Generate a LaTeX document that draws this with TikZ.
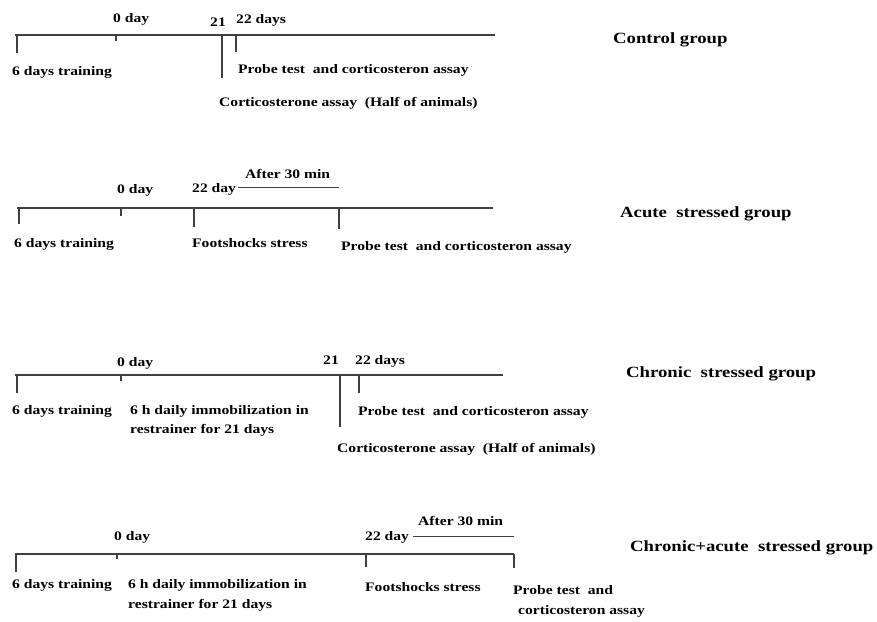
\documentclass[tikz,border=0pt]{standalone}
\usepackage{fontspec}
\setmainfont{Liberation Serif}[FakeStretch=1.2]
\begin{document}
\begin{tikzpicture}[x=1pt,y=-1pt]
		\tikzset{lab/.style = {anchor=base west, inner sep=0pt, font=\fontsize{13}{16}\selectfont\bfseries},
			grp/.style = {anchor=base west, inner sep=0pt, font=\fontsize{15.6}{19}\selectfont\bfseries},
			axis/.style = {draw=black!75, line width=1.3pt},
			tick/.style = {draw=black!75, line width=1.3pt}}

		\useasboundingbox (0,0) rectangle (877,621);

		% control group
		\coordinate (C_0) at (15,35);
		\coordinate (C_1) at (495,35);
		\coordinate (C_2) at (17,35);   \coordinate (C_3) at (17,53);
		\coordinate (C_4) at (116,35);  \coordinate (C_5) at (116,41);
		\coordinate (C_6) at (222,35);  \coordinate (C_7) at (222,78);
		\coordinate (C_8) at (236,35);  \coordinate (C_9) at (236,52);

		\draw[axis] (C_0)--(C_1);
		\draw[tick] (C_2)--(C_3);
		\draw[tick] (C_4)--(C_5);
		\draw[tick] (C_6)--(C_7);
		\draw[tick] (C_8)--(C_9);

		\node[lab] (c_day0) at (113,22) {0 day};
		\node[lab] (c_day21) at (210,26) {21};
		\node[lab] (c_day22) at (236,23) {22 days};
		\node[lab] (c_train) at (12,75) {6 days training};
		\node[lab] (c_probe) at (238,73) {Probe test\ \ and corticosteron assay};
		\node[lab] (c_cort) at (219,106) {Corticosterone assay\ \ (Half of animals)};
		\node[grp] (c_name) at (613,43) {Control group};

		% acute stressed group
		\coordinate (A_0) at (17,208);
		\coordinate (A_1) at (493,208);
		\coordinate (A_2) at (19,208);   \coordinate (A_3) at (19,224);
		\coordinate (A_4) at (121,208);  \coordinate (A_5) at (121,216);
		\coordinate (A_6) at (194,208);  \coordinate (A_7) at (194,227);
		\coordinate (A_8) at (339,208);  \coordinate (A_9) at (339,229);
		\coordinate (A_10) at (238,187); \coordinate (A_11) at (339,187);

		\draw[axis] (A_0)--(A_1);
		\draw[tick] (A_2)--(A_3);
		\draw[tick] (A_4)--(A_5);
		\draw[tick] (A_6)--(A_7);
		\draw[tick] (A_8)--(A_9);
		\draw[black!75, line width=1pt] (A_10)--(A_11);

		\node[lab] (a_day0) at (117,193) {0 day};
		\node[lab] (a_day22) at (192,192) {22 day};
		\node[lab] (a_after) at (245,178) {After 30 min};
		\node[lab] (a_train) at (14,247) {6 days training};
		\node[lab] (a_shock) at (192,247) {Footshocks stress};
		\node[lab] (a_probe) at (341,250) {Probe test\ \ and corticosteron assay};
		\node[grp] (a_name) at (620,217) {Acute\ \ stressed group};

		% chronic stressed group
		\coordinate (B_0) at (15,375);
		\coordinate (B_1) at (503,375);
		\coordinate (B_2) at (17,375);   \coordinate (B_3) at (17,393);
		\coordinate (B_4) at (121,375);  \coordinate (B_5) at (121,381);
		\coordinate (B_6) at (340,375);  \coordinate (B_7) at (340,427);
		\coordinate (B_8) at (359,375);  \coordinate (B_9) at (359,393);

		\draw[axis] (B_0)--(B_1);
		\draw[tick] (B_2)--(B_3);
		\draw[tick] (B_4)--(B_5);
		\draw[tick] (B_6)--(B_7);
		\draw[tick] (B_8)--(B_9);

		\node[lab] (b_day0) at (117,366) {0 day};
		\node[lab] (b_day21) at (323,364) {21};
		\node[lab] (b_day22) at (355,364) {22 days};
		\node[lab] (b_train) at (12,414) {6 days training};
		\node[lab] (b_immo) at (130,414) {6 h daily immobilization in};
		\node[lab] (b_immo2) at (130,433) {restrainer for 21 days};
		\node[lab] (b_probe) at (358,415) {Probe test\ \ and corticosteron assay};
		\node[lab] (b_cort) at (337,452) {Corticosterone assay\ \ (Half of animals)};
		\node[grp] (b_name) at (626,377) {Chronic\ \ stressed group};

		% chronic+acute stressed group
		\coordinate (D_0) at (15,554);
		\coordinate (D_1) at (514,554);
		\coordinate (D_2) at (16,554);   \coordinate (D_3) at (16,572);
		\coordinate (D_4) at (117,554);  \coordinate (D_5) at (117,559);
		\coordinate (D_6) at (366,554);  \coordinate (D_7) at (366,567);
		\coordinate (D_8) at (514,554);  \coordinate (D_9) at (514,568);
		\coordinate (D_10) at (413,536); \coordinate (D_11) at (514,536);

		\draw[axis] (D_0)--(D_1);
		\draw[tick] (D_2)--(D_3);
		\draw[tick] (D_4)--(D_5);
		\draw[tick] (D_6)--(D_7);
		\draw[tick] (D_8)--(D_9);
		\draw[black!75, line width=1pt] (D_10)--(D_11);

		\node[lab] (d_day0) at (114,540) {0 day};
		\node[lab] (d_day22) at (365,540) {22 day};
		\node[lab] (d_after) at (418,525) {After 30 min};
		\node[lab] (d_train) at (12,588) {6 days training};
		\node[lab] (d_immo) at (128,588) {6 h daily immobilization in};
		\node[lab] (d_immo2) at (128,608) {restrainer for 21 days};
		\node[lab] (d_shock) at (365,591) {Footshocks stress};
		\node[lab] (d_probe) at (513,594) {Probe test\ \ and};
		\node[lab] (d_probe2) at (518,614) {corticosteron assay};
		\node[grp] (d_name) at (630,551) {Chronic+acute\ \ stressed group};

	\end{tikzpicture}
\end{document}
